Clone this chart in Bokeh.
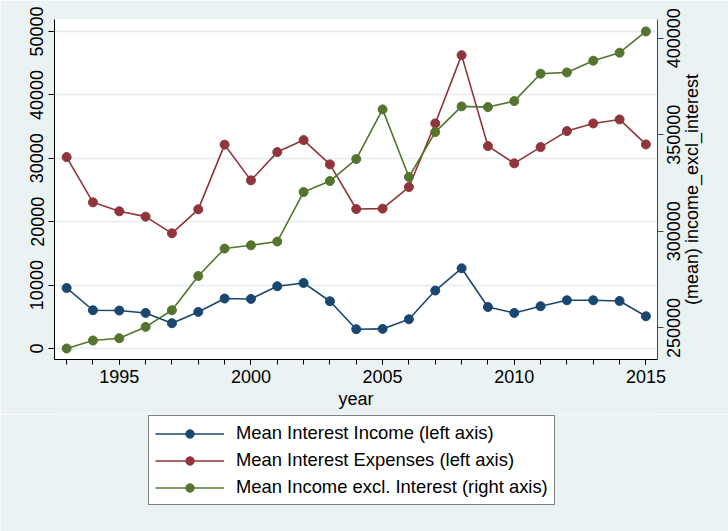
import math
from bokeh.plotting import figure
from bokeh.layouts import column
from bokeh.models import (Range1d, LinearAxis, FixedTicker, Legend, LegendItem,
                          BasicTickFormatter)
from bokeh.embed import file_html
from bokeh.resources import INLINE

# Yearly means
years = list(range(1993, 2016))
interest_income = [9550, 6035, 5990, 5610, 3990, 5770, 7880, 7820, 9820, 10340,
                   7450, 3040, 3090, 4620, 9140, 12650, 6550, 5610, 6670, 7610,
                   7610, 7500, 5090]
interest_expenses = [30190, 23050, 21640, 20800, 18170, 21950, 32150, 26520, 30980,
                     32870, 29040, 22000, 22060, 25470, 35500, 46270, 31930, 29200,
                     31770, 34290, 35500, 36130, 32190]
income_excl_interest = [239340, 243480, 244670, 250520, 259160, 276900, 291080,
                        292780, 294700, 320360, 326050, 337430, 363140, 328120,
                        351400, 364690, 364330, 367430, 381610, 382280, 388330,
                        392470, 403490]

left_ticks = [0, 10000, 20000, 30000, 40000, 50000]
right_ticks = [250000, 300000, 350000, 400000]
year_ticks = [1995, 2000, 2005, 2010, 2015]
right_title = "(mean) income_excl_interest"

series_labels = ["Mean Interest Income (left axis)",
                 "Mean Interest Expenses (left axis)",
                 "Mean Income excl. Interest (right axis)"]
navy, maroon, green = "#1A476F", "#90353B", "#55752F"
series = [(interest_income, navy, series_labels[0], "default"),
          (interest_expenses, maroon, series_labels[1], "default"),
          (income_excl_interest, green, series_labels[2], "right")]

FONT = "Liberation Sans"
FS_PX = 18
FS = f"{FS_PX}px"
BG = "#EAF2F3"
TOP_H = 414
FRAME_L, FRAME_R, FRAME_T, FRAME_B = 54, 657, 19, 359

x_rng = Range1d(1992.54, 2015.44)
right_rng = Range1d(233650, 409674)

# Liberation Sans advance widths (em) for the glyphs used on the right axis
ADV = {"0": .556, "2": .556, "3": .556, "4": .556, "5": .556, "(": .333, ")": .333,
       "m": .833, "e": .556, "a": .556, "n": .556, " ": .278, "i": .222, "c": .5,
       "o": .556, "_": .556, "x": .5, "l": .222, "t": .278, "r": .333, "s": .5}


def text_len(s):
    return sum(ADV.get(ch, .556) for ch in s) * FS_PX


frame_h = FRAME_B - FRAME_T
units_per_px = (right_rng.end - right_rng.start) / frame_h

p = figure(width=728, height=TOP_H, output_backend="svg", toolbar_location=None,
           x_range=x_rng, y_range=Range1d(-1733, 51891),
           min_border_left=FRAME_L, min_border_right=728 - FRAME_R,
           min_border_top=FRAME_T, min_border_bottom=TOP_H - FRAME_B)
p.border_fill_color = BG
p.background_fill_color = "white"
p.outline_line_color = None

# Rotated right-side texts are anchored at their first character, so they
# get axes on ranges shifted by half the text length to centre them.
lbl_shift = text_len(str(right_ticks[0])) / 2 * units_per_px
title_base = (FRAME_T + FRAME_B) / 2 + text_len(right_title) / 2  # px from top
p.extra_y_ranges = {
    "right": right_rng,
    "right_labels": Range1d(right_rng.start + lbl_shift, right_rng.end + lbl_shift),
    # pixel units, zero where the title's first character sits
    "right_title": Range1d(-(FRAME_B - title_base), title_base - FRAME_T),
}

# bottom axis
xa = p.xaxis[0]
xa.ticker = FixedTicker(ticks=year_ticks, minor_ticks=years)
xa.axis_label = "year"

# left axis
ya = p.yaxis[0]
ya.ticker = FixedTicker(ticks=left_ticks)
ya.major_label_orientation = "vertical"

# right axis: tick marks
ra = LinearAxis(y_range_name="right")
ra.ticker = FixedTicker(ticks=right_ticks)
ra.major_label_overrides = {t: "" for t in right_ticks}
ra.major_label_text_font_size = "1px"
ra.major_label_standoff = 0
p.add_layout(ra, "right")

# right axis: tick labels
rl = LinearAxis(y_range_name="right_labels")
rl.ticker = FixedTicker(ticks=right_ticks)
rl.formatter = BasicTickFormatter(use_scientific=False)
rl.major_label_orientation = math.pi / 2
rl.major_label_standoff = 10
p.add_layout(rl, "right")

# right axis: title
rt = LinearAxis(y_range_name="right_title")
rt.ticker = FixedTicker(ticks=[0])
rt.major_label_overrides = {0: right_title}
rt.major_label_orientation = math.pi / 2
rt.major_label_standoff = 3
p.add_layout(rt, "right")

for ax in (rl, rt):
    ax.axis_line_color = None
    ax.major_tick_line_color = None
    ax.minor_tick_line_color = None
    ax.major_tick_out = 0
    ax.major_tick_in = 0
    ax.major_label_text_font = FONT
    ax.major_label_text_font_size = FS
    ax.major_label_text_color = "black"

for ax in (xa, ya, ra):
    ax.major_label_text_font = FONT
    ax.axis_label_text_font = FONT
    ax.axis_label_text_font_size = FS
    ax.axis_label_text_font_style = "normal"
    ax.axis_label_text_color = "black"
    ax.axis_line_color = "black"
    ax.major_tick_line_color = "black"
    ax.major_tick_out = 6
    ax.major_tick_in = 0
    ax.minor_tick_line_color = None
    ax.axis_label_standoff = 3
for ax in (xa, ya):
    ax.major_label_text_font_size = FS
    ax.major_label_text_color = "black"
    ax.major_label_standoff = 5
ra.axis_line_color = "#444444"
ra.major_tick_line_color = "#444444"
xa.minor_tick_line_color = "black"
xa.minor_tick_out = 5
xa.minor_tick_in = 0
xa.major_tick_out = 5

p.xgrid.grid_line_color = None
p.ygrid.grid_line_color = "#E3ECEF"
p.ygrid.grid_line_width = 1.5

for vals, col, lab, rng in series:
    p.line(years, vals, line_color=col, line_width=1.6, y_range_name=rng)
    p.scatter(years, vals, size=9, fill_color=col, line_color=col,
              y_range_name=rng)

# legend strip below the chart; its renderers lie outside the strip's view
LEG_H = 531 - TOP_H
lg = figure(width=728, height=LEG_H, output_backend="svg", toolbar_location=None,
            x_axis_location=None, y_axis_location=None, min_border=0,
            x_range=Range1d(0, 1), y_range=Range1d(0, 1))
lg.border_fill_color = BG
lg.background_fill_color = BG
lg.outline_line_color = None
lg.xgrid.grid_line_color = None
lg.ygrid.grid_line_color = None

items = []
for vals, col, lab, rng in series:
    ln = lg.line(years, vals, line_color=col, line_width=1.6)
    sc = lg.scatter(years, vals, size=9, fill_color=col, line_color=col)
    items.append(LegendItem(label=lab, renderers=[ln, sc]))

legend = Legend(items=items, location=(148 - FRAME_L, LEG_H - (505 - TOP_H)),
                orientation="vertical",
                padding=6, spacing=5, glyph_width=69, glyph_height=21,
                label_height=21, label_standoff=12,
                label_text_font=FONT, label_text_font_size="18.4px",
                label_text_color="black", border_line_color="black",
                border_line_width=1, background_fill_color="white",
                background_fill_alpha=1.0, margin=0)
lg.add_layout(legend)

open("out.html", "w").write(file_html(column(p, lg, spacing=0), INLINE))
